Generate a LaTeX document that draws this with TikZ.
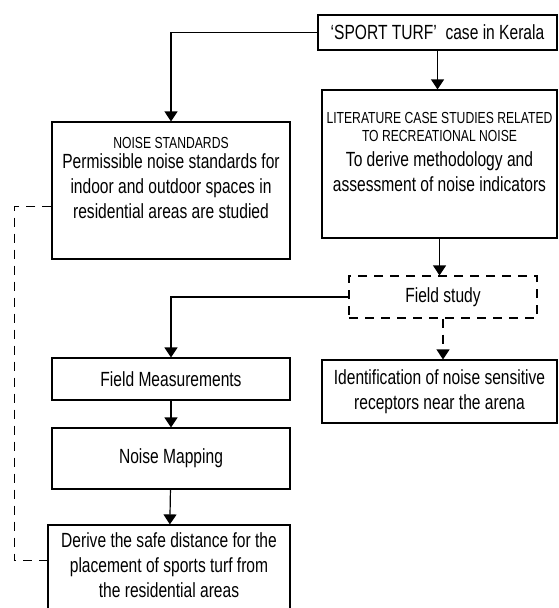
\documentclass[tikz,border=0pt]{standalone}
\usepackage{fontspec}
\setmainfont{Liberation Sans}[FakeStretch=0.76]
\usetikzlibrary{arrows.meta,positioning}
\newcommand{\hdr}{\fontsize{16}{18}\selectfont}

\begin{document}
\begin{tikzpicture}[x=1pt,y=-1pt,>={Triangle[width=13pt,length=10pt]},
  box/.style={draw,line width=1.2pt,align=center,inner sep=0pt,font=\fontsize{20.5}{25}\selectfont},
  link/.style={->,line width=1.2pt},
  dashline/.style={line width=1.2pt,dash pattern=on 9pt off 7pt}]
\useasboundingbox(0,0)rectangle(558,608);
\clip(0,0)rectangle(558,608);
\node[box,minimum width=239pt,minimum height=35pt](turf)at(437.5,32.5){‘SPORT TURF’~ case in Kerala};
\node[box,minimum width=235pt,minimum height=148pt](lit)at(439.5,164){{\hdr LITERATURE CASE STUDIES RELATED}\\[-7pt]{\hdr TO RECREATIONAL NOISE}\\To derive methodology and\\assessment of noise indicators\\~};
\node[box,minimum width=238pt,minimum height=137pt](noise)at(171,190.5){{\hdr NOISE STANDARDS}\\[-5pt]Permissible noise standards for\\indoor and outdoor spaces in\\residential areas are studied\\~};
\node[box,dashline,minimum width=188pt,minimum height=42pt](field)at(443,297){Field study};
\node[box,minimum width=238pt,minimum height=42pt](meas)at(171,379){Field Measurements};
\node[box,minimum width=235pt,minimum height=63pt](ident)at(439.5,391.5){Identification of noise sensitive\\receptors near the arena};
\node[box,minimum width=238pt,minimum height=61pt](map)at(171,458.5){Noise Mapping};
\node[box,minimum width=242pt,minimum height=95pt](safe)at(169,572.5){Derive the safe distance for the\\placement of sports turf from\\the residential areas\\[-10pt]~};
\draw[link](turf.west)-|(noise.north);
\draw[link](turf.south)--(turf.south|-lit.north);
\draw[link](lit.south)--(lit.south|-field.north);
\draw[link](field.west)-|(meas.north);
\draw[link,dashline](field.south)--(field.south|-ident.north);
\draw[link](meas)--(map);
\draw[link](map)--(safe);
\draw[dashline]([yshift=-16pt]noise.west)--++(-37,0)|-([yshift=12pt]safe.west);
\end{tikzpicture}
\end{document}
